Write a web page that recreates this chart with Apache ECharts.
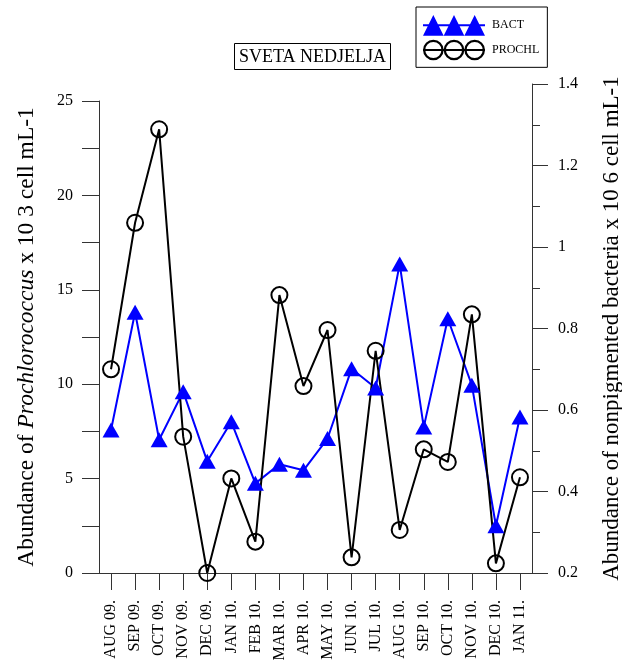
<!DOCTYPE html>
<html>
<head>
<meta charset="utf-8">
<script src="https://cdn.jsdelivr.net/npm/echarts@6/dist/echarts.min.js"></script>
<style>
html,body{margin:0;padding:0;background:#fff;}
#c{width:622px;height:661px;}
</style>
</head>
<body>
<div id="c"></div>
<script>
var months = ['AUG 09.','SEP 09.','OCT 09.','NOV 09.','DEC 09.','JAN 10.','FEB 10.','MAR 10.','APR 10.','MAY 10.','JUN 10.','JUL 10.','AUG 10.','SEP 10.','OCT 10.','NOV 10.','DEC 10.','JAN 11.'];
var prochl = [10.79, 18.55, 23.5, 7.22, 0, 5.01, 1.66, 14.72, 9.9, 12.87, 0.83, 11.77, 2.28, 6.55, 5.88, 13.7, 0.51, 5.07];
var bact = [0.551, 0.84, 0.527, 0.645, 0.474, 0.571, 0.42, 0.467, 0.452, 0.53, 0.701, 0.654, 0.958, 0.558, 0.824, 0.661, 0.316, 0.583];
var leftTicks = [0, 5, 10, 15, 20, 25];
var rightTicks = [0.2, 0.4, 0.6, 0.8, 1, 1.2, 1.4];

var FONT = 'Liberation Serif';
var triIcon = 'path://M0 20 L10 0 L20 20 Z M20 20 L30 0 L40 20 Z M40 20 L50 0 L60 20 Z M0 9 L60 9 L60 11 L0 11 Z';
function ring(cx){
  return 'M'+(cx-10)+' 10 A10 10 0 1 1 '+(cx+10)+' 10 A10 10 0 1 1 '+(cx-10)+' 10 Z ' +
         'M'+(cx-7.8)+' 10 A7.8 7.8 0 1 0 '+(cx+7.8)+' 10 A7.8 7.8 0 1 0 '+(cx-7.8)+' 10 Z ';
}
var circIcon = 'path://' + ring(10) + ring(30) + ring(50) + 'M0 9 L60 9 L60 11 L0 11 Z';

var chart = echarts.init(document.getElementById('c'), null, {renderer:'canvas'});
var axisLineStyle = {color:'#333', width:1};
chart.setOption({
  animation:false,
  backgroundColor:'#fff',
  title:{
    text:'SVETA NEDJELJA', left:234, top:43,
    borderColor:'#000', borderWidth:1, padding:[5,5,4,5],
    textStyle:{fontFamily:FONT, fontSize:18, fontWeight:'normal', color:'#000'}
  },
  legend:{
    orient:'vertical', left:416, top:7,
    borderColor:'#000', borderWidth:1, padding:[8,8,7,7],
    itemWidth:62, itemHeight:21, itemGap:4,
    textStyle:{fontFamily:FONT, fontSize:12, color:'#000', padding:[0,0,0,2]},
    data:[
      {name:'BACT', icon:triIcon, itemStyle:{color:'#0000ff', borderWidth:0}},
      {name:'PROCHL', icon:circIcon, itemStyle:{color:'#000', borderWidth:0}}
    ]
  },
  grid:[
    {left:99, right:90, top:101, bottom:88, outerBoundsMode:'none', containLabel:false},
    {left:99, right:90, top:84, bottom:88, outerBoundsMode:'none', containLabel:false}
  ],
  xAxis:[
    {type:'category', gridIndex:0, data:months, boundaryGap:true,
     axisLine:{show:true, lineStyle:axisLineStyle},
     axisTick:{show:true, alignWithLabel:true, inside:false, length:17, lineStyle:axisLineStyle},
     axisLabel:{rotate:90, margin:27, interval:0, fontFamily:FONT, fontSize:16, color:'#000'},
     splitLine:{show:false}},
    {type:'category', gridIndex:1, data:months, boundaryGap:true, show:false}
  ],
  yAxis:[
    {type:'value', gridIndex:0, position:'left', min:0, max:25, interval:2.5,
     axisLine:{show:true, lineStyle:axisLineStyle},
     axisTick:{show:true, length:17, lineStyle:axisLineStyle},
     axisLabel:{margin:26, fontFamily:FONT, fontSize:16, color:'#000',
       formatter:function(v){ return leftTicks.indexOf(v) >= 0 ? String(v) : ''; }},
     splitLine:{show:false},
     name:'{a|Abundance of }{i|Prochlorococcus}{a| x 10 3 cell mL-1}',
     nameLocation:'middle', nameGap:60, nameRotate:90,
     nameTextStyle:{fontFamily:FONT, fontSize:23.5, color:'#000',
       rich:{a:{fontFamily:FONT, fontSize:23.5, color:'#000'}, i:{fontFamily:FONT, fontSize:23.5, fontStyle:'italic', color:'#000'}}}
    },
    {type:'value', gridIndex:1, position:'right', min:0.2, max:1.4, interval:0.2,
     axisLine:{show:true, lineStyle:axisLineStyle},
     axisTick:{show:true, length:16, lineStyle:axisLineStyle},
     minorTick:{show:true, splitNumber:2, length:8, lineStyle:axisLineStyle},
     axisLabel:{margin:26, fontFamily:FONT, fontSize:16, color:'#000',
       formatter:function(v){ var r = Math.round(v*10)/10; return rightTicks.indexOf(r) >= 0 ? String(r) : ''; }},
     splitLine:{show:false},
     name:'Abundance of nonpigmented bacteria x 10 6 cell mL-1',
     nameLocation:'middle', nameGap:68, nameRotate:90,
     nameTextStyle:{fontFamily:FONT, fontSize:23, color:'#000'}
    }
  ],
  series:[
    {name:'BACT', type:'line', xAxisIndex:1, yAxisIndex:1, data:bact,
     symbol:'triangle', symbolSize:[17,15], clip:false,
     lineStyle:{color:'#0000ff', width:2},
     itemStyle:{color:'#0000ff', borderWidth:0}},
    {name:'PROCHL', type:'line', xAxisIndex:0, yAxisIndex:0, data:prochl,
     symbol:'circle', symbolSize:16, clip:false,
     lineStyle:{color:'#000', width:2},
     itemStyle:{color:'rgba(0,0,0,0)', borderColor:'#000', borderWidth:2}}
  ]
});
</script>
</body>
</html>
